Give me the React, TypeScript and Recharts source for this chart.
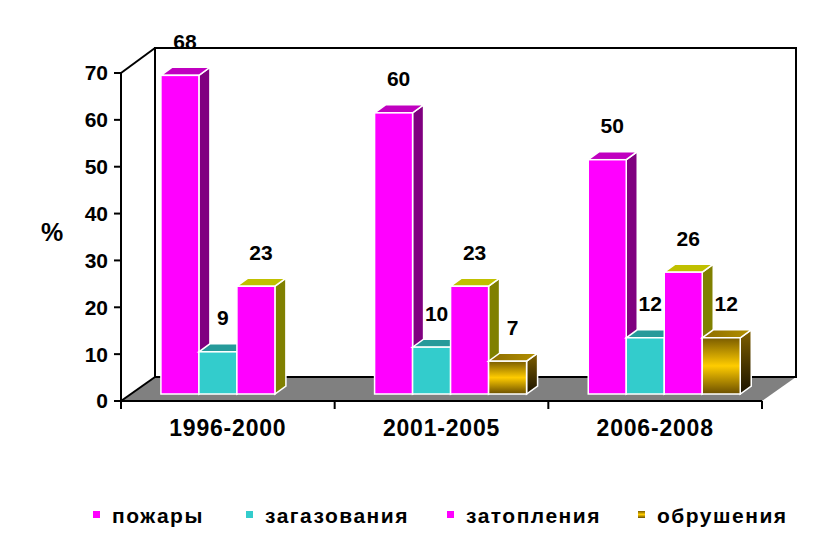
import React from "react";
import { BarChart, Bar, XAxis, YAxis, Legend, LabelList } from "recharts";

const categories = ["1996-2000", "2001-2005", "2006-2008"];
const fires = [68, 60, 50];
const gassing = [9, 10, 12];
const floods = [23, 23, 26];
const collapses = [null, 7, 12];
const yTicks = [0, 10, 20, 30, 40, 50, 60, 70];
const seriesKeys = ["fires", "gassing", "floods", "collapses"];

const data = categories.map((period, i) => ({
  period,
  fires: fires[i],
  gassing: gassing[i],
  floods: floods[i],
  collapses: collapses[i],
}));

const W = 821;
const H = 534;
const LEFT = 121;
const RIGHT = 762;
const TOP = 73;
const BOTTOM = 401;
const WALL_DX = 34;
const WALL_DY = 24;
const BAND = (RIGHT - LEFT) / categories.length;
// bars stand a bit inside the floor and have their own depth
const BX = 10;
const BY = 7;
const BD = 11;
const BDY = 8;
const FONT = "'Liberation Sans', Arial, sans-serif";

type Faces = { front: string; top: string; side: string };

function makeShape(c: Faces) {
  return (props: any) => {
    const { x, y, width, height } = props;
    if (!height || height <= 0) return null;
    const l = x + BX;
    const r = x + width + BX;
    const t = y - BY;
    const b = y + height - BY;
    return (
      <g>
        <polygon
          points={`${r},${t} ${r + BD},${t - BDY} ${r + BD},${b - BDY} ${r},${b}`}
          fill={c.side}
          stroke="#fff"
          strokeWidth={1.5}
        />
        <polygon
          points={`${l},${t} ${r},${t} ${r + BD},${t - BDY} ${l + BD},${t - BDY}`}
          fill={c.top}
          stroke="#fff"
          strokeWidth={1.5}
        />
        <rect x={l} y={t} width={r - l} height={b - t} fill={c.front} stroke="#fff" strokeWidth={1.5} />
      </g>
    );
  };
}

const ValueLabel = (props: any) => {
  const { x, y, width, value } = props;
  if (value === null || value === undefined) return null;
  return (
    <text
      x={x + width / 2 + BX + 5}
      y={y - BY - 34}
      textAnchor="middle"
      dominantBaseline="central"
      fontFamily={FONT}
      fontWeight="bold"
      fontSize={21}
      fill="#000"
    >
      {value}
    </text>
  );
};

const CategoryTick = (props: any) => {
  const { x, payload, index } = props;
  return (
    <g>
      <line x1={x - BAND / 2} y1={BOTTOM} x2={x - BAND / 2} y2={BOTTOM + 8} stroke="#000" strokeWidth={2} />
      {index === categories.length - 1 && (
        <line x1={x + BAND / 2} y1={BOTTOM} x2={x + BAND / 2} y2={BOTTOM + 8} stroke="#000" strokeWidth={2} />
      )}
      <text
        x={x}
        y={BOTTOM + 27}
        textAnchor="middle"
        dominantBaseline="central"
        fontFamily={FONT}
        fontWeight="bold"
        fontSize={23}
        letterSpacing={0.8}
        fill="#000"
      >
        {payload.value}
      </text>
    </g>
  );
};

const LEGEND_X = [93, 246, 447, 638];

const renderLegend = (props: any) => {
  const items = [...(props.payload || [])].sort(
    (a: any, b: any) => seriesKeys.indexOf(a.dataKey) - seriesKeys.indexOf(b.dataKey)
  );
  return (
    <svg width={W} height={30}>
      {items.map((entry: any, i: number) => (
        <g key={entry.value}>
          <rect x={LEGEND_X[i]} y={9} width={7} height={7} fill={entry.color} />
          <text
            x={LEGEND_X[i] + 19}
            y={13}
            dominantBaseline="central"
            fontFamily={FONT}
            fontWeight="bold"
            fontSize={21}
            letterSpacing={1.5}
            fill="#000"
          >
            {entry.value}
          </text>
        </g>
      ))}
    </svg>
  );
};

const firesFaces = { front: "#FF00FF", top: "#C000C0", side: "#800080" };
const gassingFaces = { front: "#33CCCC", top: "#269A9A", side: "#1A7F7F" };
const floodsFaces = { front: "#FF00FF", top: "#C0C000", side: "#808000" };
const collapsesFaces = { front: "url(#goldFront)", top: "url(#goldTop)", side: "url(#goldSide)" };

export default function App() {
  return (
    <div style={{ position: "absolute", left: 0, top: 0, width: W, height: H, background: "#fff" }}>
      <svg width={W} height={H} style={{ position: "absolute", left: 0, top: 0 }}>
        <defs>
          <linearGradient id="goldFront" x1="0" y1="0" x2="0" y2="1">
            <stop offset="0%" stopColor="#7A5C00" />
            <stop offset="50%" stopColor="#FFCC00" />
            <stop offset="100%" stopColor="#6B4F00" />
          </linearGradient>
          <linearGradient id="goldTop" x1="0" y1="0" x2="1" y2="0">
            <stop offset="0%" stopColor="#8C6C00" />
            <stop offset="100%" stopColor="#B39000" />
          </linearGradient>
          <linearGradient id="goldSide" x1="0" y1="0" x2="0" y2="1">
            <stop offset="0%" stopColor="#806000" />
            <stop offset="100%" stopColor="#1A1200" />
          </linearGradient>
        </defs>
        <rect
          x={LEFT + WALL_DX}
          y={TOP - WALL_DY - 1}
          width={RIGHT - LEFT}
          height={BOTTOM - TOP + 1}
          fill="#fff"
          stroke="#000"
          strokeWidth={2}
        />
        <polygon
          points={`${LEFT},${BOTTOM} ${RIGHT},${BOTTOM} ${RIGHT + WALL_DX},${BOTTOM - WALL_DY} ${LEFT + WALL_DX},${BOTTOM - WALL_DY}`}
          fill="#808080"
        />
        <line x1={LEFT + WALL_DX} y1={BOTTOM - WALL_DY} x2={RIGHT + WALL_DX} y2={BOTTOM - WALL_DY} stroke="#000" strokeWidth={2} />
        <line x1={LEFT} y1={TOP} x2={LEFT + WALL_DX} y2={TOP - WALL_DY - 1} stroke="#000" strokeWidth={2} />
        <line x1={LEFT} y1={BOTTOM} x2={LEFT + WALL_DX} y2={BOTTOM - WALL_DY} stroke="#000" strokeWidth={2} />
      </svg>
      <div style={{ position: "absolute", left: 0, top: 0 }}>
        <BarChart
          width={W}
          height={H}
          data={data}
          margin={{ top: TOP, right: W - RIGHT, bottom: H - BOTTOM - 30, left: 0 }}
          barCategoryGap="14%"
          barGap={0}
        >
          <XAxis
            dataKey="period"
            height={30}
            axisLine={{ stroke: "#000", strokeWidth: 2 }}
            tickLine={false}
            tick={<CategoryTick />}
            interval={0}
          />
          <YAxis
            width={LEFT}
            domain={[0, 70]}
            ticks={yTicks}
            interval={0}
            axisLine={{ stroke: "#000", strokeWidth: 2 }}
            tickLine={{ stroke: "#000", strokeWidth: 2 }}
            tickSize={7}
            tickMargin={6}
            tick={{ fill: "#000", fontSize: 21, fontWeight: "bold", fontFamily: FONT }}
            label={{
              value: "%",
              position: "insideLeft",
              offset: 41,
              dy: -5,
              fill: "#000",
              fontSize: 25,
              fontWeight: "bold",
              fontFamily: FONT,
            }}
          />
          <Legend
            layout="horizontal"
            verticalAlign="middle"
            align="center"
            content={renderLegend}
            wrapperStyle={{ left: 0, top: 502, width: W, height: 30 }}
          />
          <Bar dataKey="fires" name="пожары" fill="#FF00FF" shape={makeShape(firesFaces)} isAnimationActive={false}>
            <LabelList dataKey="fires" content={<ValueLabel />} />
          </Bar>
          <Bar dataKey="gassing" name="загазования" fill="#33CCCC" shape={makeShape(gassingFaces)} isAnimationActive={false}>
            <LabelList dataKey="gassing" content={<ValueLabel />} />
          </Bar>
          <Bar dataKey="floods" name="затопления" fill="#FF00FF" shape={makeShape(floodsFaces)} isAnimationActive={false}>
            <LabelList dataKey="floods" content={<ValueLabel />} />
          </Bar>
          <Bar
            dataKey="collapses"
            name="обрушения"
            fill="url(#goldFront)"
            shape={makeShape(collapsesFaces)}
            isAnimationActive={false}
          >
            <LabelList dataKey="collapses" content={<ValueLabel />} />
          </Bar>
        </BarChart>
      </div>
    </div>
  );
}
